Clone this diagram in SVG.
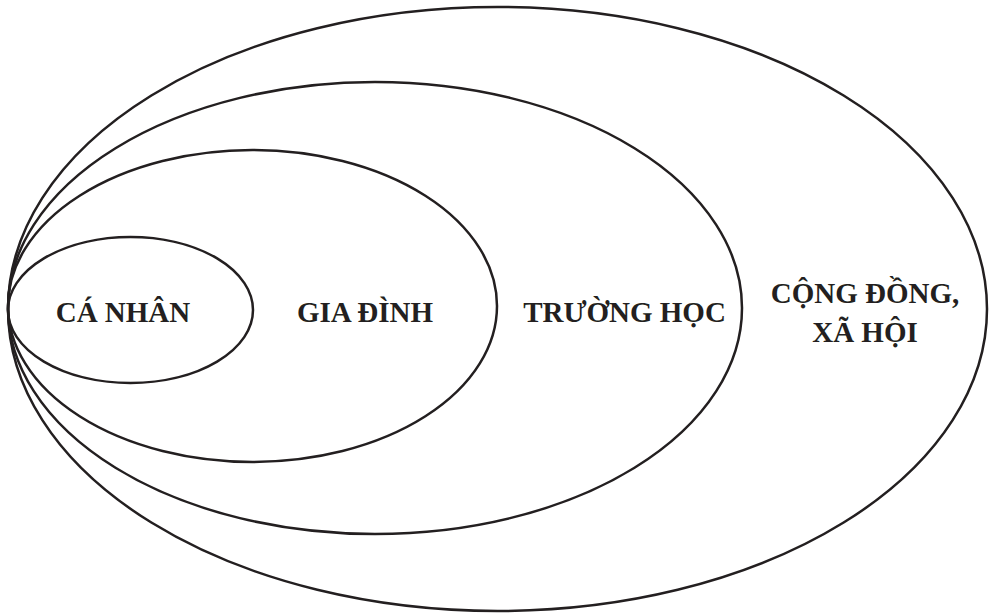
<svg xmlns="http://www.w3.org/2000/svg" width="992" height="614" viewBox="0 0 992 614">
<style>
.e{fill:none;stroke:#231f20;stroke-width:2.5}
.t{font-family:"Liberation Serif","DejaVu Serif",serif;font-weight:bold;font-size:29px;fill:#231f20;text-anchor:middle}
</style>
<rect width="992" height="614" fill="#fff"/>
<g id="cong-dong">
<ellipse class="e" cx="497.5" cy="309" rx="489.5" ry="302"/>
<text class="t" x="865" y="303">CỘNG ĐỒNG,</text>
<text class="t" x="865" y="342">XÃ HỘI</text>
</g>
<g id="truong-hoc">
<ellipse class="e" cx="375" cy="308" rx="367" ry="226"/>
<text class="t" x="624.5" y="322">TRƯỜNG HỌC</text>
</g>
<g id="gia-dinh">
<ellipse class="e" cx="252.5" cy="306" rx="244.5" ry="156"/>
<text class="t" x="365" y="322">GIA ĐÌNH</text>
</g>
<g id="ca-nhan">
<ellipse class="e" cx="130.5" cy="310" rx="122.5" ry="73"/>
<text class="t" x="123" y="322">CÁ NHÂN</text>
</g>
<g id="connectors"></g>
</svg>
